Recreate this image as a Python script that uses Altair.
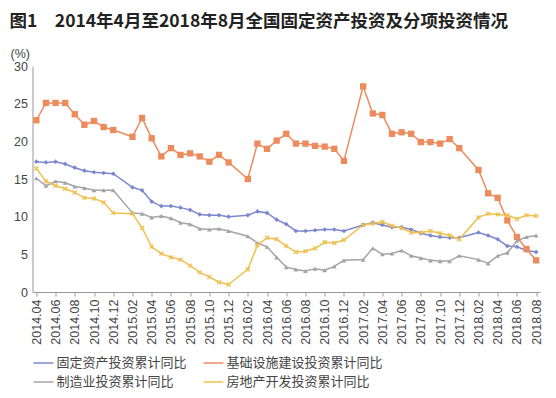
import altair as alt
import pandas as pd

months_all = [f"{y}.{m:02d}" for y in range(2014, 2019) for m in range(1, 13)
              if (2014, 4) <= (y, m) <= (2018, 8)]
months = [m for m in months_all if not m.endswith(".01")]
tick_labels = months_all[::2]

series = ["固定资产投资累计同比", "基础设施建设投资累计同比", "制造业投资累计同比", "房地产开发投资累计同比"]

fai = [17.3, 17.2, 17.3, 17.0, 16.5, 16.1, 15.9, 15.8, 15.7,
       13.9, 13.5, 12.0, 11.4, 11.4, 11.2, 10.9, 10.3, 10.2, 10.2, 10.0,
       10.2, 10.7, 10.5, 9.6, 9.0, 8.1, 8.1, 8.2, 8.3, 8.3, 8.1,
       8.9, 9.2, 8.9, 8.6, 8.6, 8.3, 7.8, 7.5, 7.3, 7.2, 7.2,
       7.9, 7.5, 7.0, 6.1, 6.0, 5.5, 5.3]
infra = [22.8, 25.1, 25.1, 25.1, 23.6, 22.2, 22.7, 21.9, 21.5,
         20.6, 23.1, 20.4, 18.0, 19.1, 18.2, 18.4, 18.0, 17.3, 18.2, 17.2,
         15.0, 19.7, 19.0, 20.1, 21.0, 19.7, 19.7, 19.4, 19.3, 19.0, 17.4,
         27.3, 23.7, 23.5, 21.0, 21.2, 21.0, 19.9, 19.9, 19.7, 20.3, 19.1,
         16.2, 13.1, 12.5, 9.5, 7.3, 5.7, 4.2]
manu = [15.1, 14.1, 14.7, 14.5, 14.0, 13.8, 13.5, 13.5, 13.5,
        10.5, 10.4, 9.9, 10.1, 9.8, 9.2, 9.0, 8.4, 8.3, 8.4, 8.1,
        7.4, 6.5, 6.0, 4.6, 3.3, 3.0, 2.8, 3.1, 2.9, 3.4, 4.2,
        4.3, 5.8, 5.0, 5.1, 5.5, 4.8, 4.5, 4.2, 4.1, 4.1, 4.8,
        4.3, 3.8, 4.8, 5.2, 6.8, 7.3, 7.5]
realty = [16.4, 14.7, 14.1, 13.7, 13.2, 12.5, 12.4, 11.9, 10.5,
          10.4, 8.5, 6.0, 5.1, 4.6, 4.3, 3.5, 2.6, 2.0, 1.3, 1.0,
          3.0, 6.2, 7.2, 7.0, 6.1, 5.3, 5.4, 5.8, 6.6, 6.5, 6.9,
          8.9, 9.1, 9.3, 8.8, 8.5, 7.9, 7.9, 8.1, 7.8, 7.5, 7.0,
          9.9, 10.4, 10.3, 10.2, 9.7, 10.2, 10.1]

colors = ["#7b87cf", "#ee8b5c", "#a3a3aa", "#efc04f"]
x_path = "M-1,-0.6L-0.6,-1L0,-0.4L0.6,-1L1,-0.6L0.4,0L1,0.6L0.6,1L0,0.4L-0.6,1L-1,0.6L-0.4,0Z"
shapes = ["diamond", "square", "triangle-up", x_path]
sizes = [22, 40, 22, 24]

rows = []
for name, vals, c, s, z in zip(series, [fai, infra, manu, realty], colors, shapes, sizes):
    for m, v in zip(months, vals):
        rows.append({"month": m, "value": v, "series": name, "col": c, "shp": s, "sz": z})
df = pd.DataFrame(rows)

FONT = "Noto Sans CJK SC"

x = alt.X("month:O",
          scale=alt.Scale(domain=months_all, type="point", padding=0.4),
          axis=alt.Axis(values=tick_labels, labelAngle=270, title=None,
                        labelFont="Liberation Sans", labelFontSize=12.5,
                        labelColor="#444", labelPadding=3, tickSize=4,
                        tickColor="#999", domainColor="#999", grid=False,
                        labelAlign="right", labelBaseline="middle"))
y = alt.Y("value:Q",
          scale=alt.Scale(domain=[0, 30], nice=False),
          axis=alt.Axis(values=[0, 5, 10, 15, 20, 25, 30], title="(%)",
                        titleAngle=0, titleX=-22.5, titleY=-13,
                        titleAlign="left", titleBaseline="middle",
                        titleFont="Liberation Sans", titleFontSize=12.5,
                        titleFontWeight="normal", titleColor="#444",
                        labelFont="Liberation Sans", labelFontSize=12.5,
                        labelColor="#444", labelPadding=5, ticks=False,
                        domainColor="#999", grid=False))

lines = alt.Chart(df).mark_line(strokeWidth=1.5).encode(
    x=x, y=y,
    color=alt.Color("series:N", scale=alt.Scale(domain=series, range=colors),
                    legend=alt.Legend(title=None, orient="none", legendX=0, legendY=286,
                                      direction="horizontal", columns=2,
                                      columnPadding=13, rowPadding=1,
                                      symbolType="stroke", symbolSize=400,
                                      symbolStrokeWidth=1.5, labelOffset=2,
                                      labelFont=FONT, labelFontSize=13,
                                      labelColor="#444", labelLimit=300)),
)

points = alt.Chart(df).mark_point(filled=True, opacity=1).encode(
    x=x, y=y,
    color=alt.Color("col:N", scale=None),
    shape=alt.Shape("shp:N", scale=None),
    size=alt.Size("sz:Q", scale=None),
)

chart = alt.layer(lines, points).properties(
    width=507.5, height=226,
    autosize=alt.AutoSizeParams(type="none"),
    padding={"left": 24.5, "top": 58, "right": 8, "bottom": 98},
    title=alt.TitleParams("图1　2014年4月至2018年8月全国固定资产投资及分项投资情况",
                          anchor="start", frame="group", font=FONT, fontSize=17.5,
                          fontWeight="bold", color="#222", dx=-23, offset=17),
    background="white",
).configure_view(stroke=None)

chart.save("out.html", embed_options={"renderer": "svg", "actions": False})
